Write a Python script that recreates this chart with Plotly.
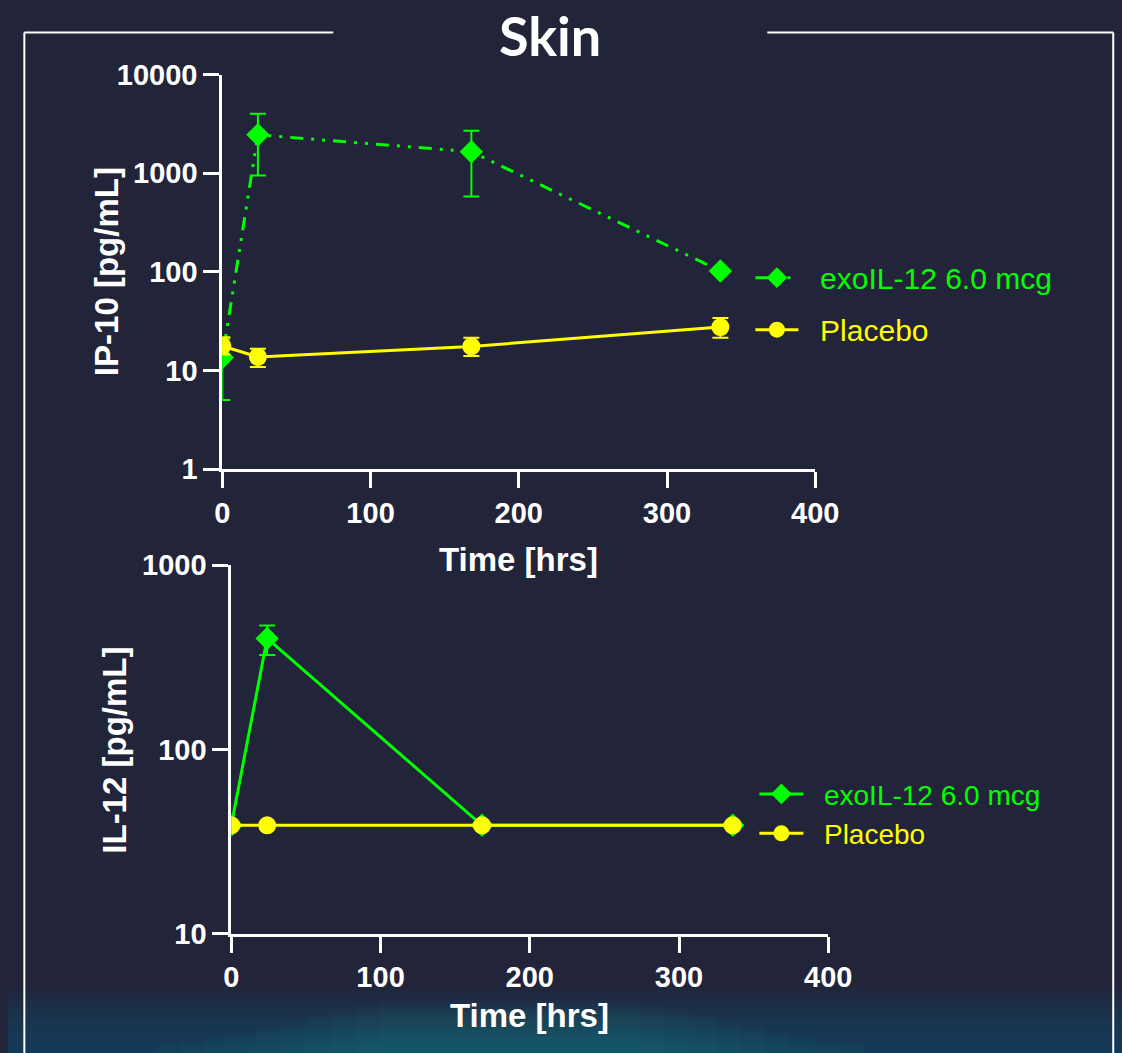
import plotly.graph_objects as go

# ---------------- data ----------------
time_hrs = [0, 24, 168, 336]

ip10_exo = [13.5, 2450, 1650, 102]
ip10_exo_hi = [21, 4000, 2700, 102]
ip10_exo_lo = [5.0, 950, 580, 102]

ip10_pbo = [17.7, 13.7, 17.5, 27.5]
ip10_pbo_hi = [21.7, 16.6, 21.5, 34]
ip10_pbo_lo = [14.5, 10.8, 14.0, 21.5]

il12_exo = [38.7, 400, 38.7, 38.7]
il12_exo_hi = [38.7, 470, 38.7, 38.7]
il12_exo_lo = [38.7, 325, 38.7, 38.7]

il12_pbo = [38.7, 38.7, 38.7, 38.7]

x_ticks = [0, 100, 200, 300, 400]
ip10_ticks = [1, 10, 100, 1000, 10000]
il12_ticks = [10, 100, 1000]

series_names = ["exoIL-12 6.0 mcg", "Placebo"]
GREEN = "#00ff00"
YELLOW = "#ffff00"
BG = "#222439"
FONT = "Liberation Sans, Arial, sans-serif"

# figure size and the observed screen mapping (screen = O + S * figure_px)
W, H = 1160, 1090
SX, OX = 0.9725, 7.66
SY, OY = 0.9695, 16.5


def fx(xr):
    return (xr - OX) / SX


def fy(yr):
    return (yr - OY) / SY


def px(xr):
    return fx(xr) / W


def py(yr):
    return 1 - fy(yr) / H


def plus(v, hi):
    return [h - a for a, h in zip(v, hi)]


def minus(v, lo):
    return [a - l for a, l in zip(v, lo)]


def label(text, color):
    return f"<span style='color:{color}'>\u00a0\u00a0{text}</span>"


fig = go.Figure()

# top panel
fig.add_trace(go.Scatter(
    x=time_hrs, y=ip10_exo, xaxis="x", yaxis="y", mode="lines+markers",
    name=label(series_names[0], GREEN), legend="legend", legendgroup="a",
    line=dict(color=GREEN, width=3, dash="13px,8px,3px,8px,3px,8px"),
    marker=dict(symbol="diamond", size=18, color=GREEN),
    error_y=dict(type="data", symmetric=False, array=plus(ip10_exo, ip10_exo_hi),
                 arrayminus=minus(ip10_exo, ip10_exo_lo), color=GREEN, thickness=2, width=8),
))
fig.add_trace(go.Scatter(
    x=time_hrs, y=ip10_pbo, xaxis="x", yaxis="y", mode="lines+markers",
    name=label(series_names[1], YELLOW), legend="legend", legendgroup="b",
    line=dict(color=YELLOW, width=3),
    marker=dict(symbol="circle", size=18, color=YELLOW),
    error_y=dict(type="data", symmetric=False, array=plus(ip10_pbo, ip10_pbo_hi),
                 arrayminus=minus(ip10_pbo, ip10_pbo_lo), color=YELLOW, thickness=2, width=8),
))

# bottom panel
fig.add_trace(go.Scatter(
    x=time_hrs, y=il12_exo, xaxis="x2", yaxis="y2", mode="lines+markers",
    name=label(series_names[0], GREEN), legend="legend2", legendgroup="c",
    line=dict(color=GREEN, width=3),
    marker=dict(symbol="diamond", size=18, color=GREEN),
    error_y=dict(type="data", symmetric=False, array=plus(il12_exo, il12_exo_hi),
                 arrayminus=minus(il12_exo, il12_exo_lo), color=GREEN, thickness=2, width=8),
))
fig.add_trace(go.Scatter(
    x=time_hrs, y=il12_pbo, xaxis="x2", yaxis="y2", mode="lines+markers",
    name=label(series_names[1], YELLOW), legend="legend2", legendgroup="d",
    line=dict(color=YELLOW, width=3),
    marker=dict(symbol="circle", size=18, color=YELLOW),
))

axis_common = dict(
    showline=True, linecolor="white", linewidth=3,
    ticks="outside", ticklen=16, tickwidth=3, tickcolor="white",
    showgrid=False, zeroline=False,
    tickfont=dict(family=FONT, size=29, color="white", weight="bold"),
)

fig.update_layout(
    width=W, height=H, autosize=False,
    margin=dict(l=0, r=0, t=0, b=0),
    paper_bgcolor=BG, plot_bgcolor="rgba(0,0,0,0)",
    xaxis=dict(domain=[px(222), px(815)], range=[0, 400], tickvals=x_ticks,
               anchor="y", **axis_common),
    yaxis=dict(domain=[py(469), py(75)], type="log", range=[0, 4], tickvals=ip10_ticks,
               ticktext=[str(t) for t in ip10_ticks], anchor="x", **axis_common),
    xaxis2=dict(domain=[px(231), px(828)], range=[0, 400], tickvals=x_ticks,
                anchor="y2", **axis_common),
    yaxis2=dict(domain=[py(933), py(565)], type="log", range=[1, 3], tickvals=il12_ticks,
                ticktext=[str(t) for t in il12_ticks], anchor="x2", **axis_common),
    legend=dict(x=(fx(755) - 5) / W, y=1 - (fy(279) - 28) / H, xanchor="left", yanchor="top",
                bgcolor="rgba(0,0,0,0)", font=dict(family=FONT, size=30),
                itemwidth=43, traceorder="grouped", tracegroupgap=10),
    legend2=dict(x=(fx(759) - 5) / W, y=1 - (fy(795) - 27) / H, xanchor="left", yanchor="top",
                 bgcolor="rgba(0,0,0,0)", font=dict(family=FONT, size=28),
                 itemwidth=44, traceorder="grouped", tracegroupgap=0),
    showlegend=True,
)

title_font = dict(family=FONT, size=33, color="white", weight="bold")
annotations = [
    dict(text="Skin", x=px(550), y=py(36), xref="paper", yref="paper", showarrow=False,
         xanchor="center", yanchor="middle",
         font=dict(family="Lato, sans-serif", size=54, color="white", weight="bold")),
    dict(text="Time [hrs]", x=px(518.5), y=py(559), xref="paper", yref="paper", showarrow=False,
         xanchor="center", yanchor="middle", font=title_font),
    dict(text="Time [hrs]", x=px(529.5), y=py(1015), xref="paper", yref="paper", showarrow=False,
         xanchor="center", yanchor="middle", font=title_font),
    dict(text="IP-10 [pg/mL]", x=px(106), y=py(272), xref="paper", yref="paper", showarrow=False,
         xanchor="center", yanchor="middle", textangle=-90, font=title_font),
    dict(text="IL-12 [pg/mL]", x=px(114), y=py(750), xref="paper", yref="paper", showarrow=False,
         xanchor="center", yanchor="middle", textangle=-90, font=title_font),
]
fig.update_layout(annotations=annotations)

shapes = []
# bottom teal glow (decorative background)
for i in range(16):
    y0 = 985 + i * 4.5
    shapes.append(dict(type="rect", xref="paper", yref="paper", layer="below",
                       x0=0, x1=1, y0=0, y1=py(y0),
                       fillcolor="rgba(25,90,120,0.06)", line=dict(width=0)))
for i in range(10):
    shapes.append(dict(type="rect", xref="paper", yref="paper", layer="below",
                       x0=px(380 - i * 25), x1=px(640 + i * 25), y0=0, y1=py(1000 + i * 5),
                       fillcolor="rgba(30,140,140,0.05)", line=dict(width=0)))
# frame lines
frame = dict(color="white", width=2)
shapes += [
    dict(type="line", xref="paper", yref="paper", x0=px(24), x1=px(24), y0=0, y1=py(33), line=frame),
    dict(type="line", xref="paper", yref="paper", x0=px(1113), x1=px(1113), y0=0, y1=py(33), line=frame),
    dict(type="line", xref="paper", yref="paper", x0=px(24), x1=px(333), y0=py(33), y1=py(33), line=frame),
    dict(type="line", xref="paper", yref="paper", x0=px(767), x1=px(1113), y0=py(33), y1=py(33), line=frame),
]
fig.update_layout(shapes=shapes)

fig.write_html(
    "out.html",
    post_script="document.body.style.margin='0';document.body.style.background='" + BG + "';",
)
